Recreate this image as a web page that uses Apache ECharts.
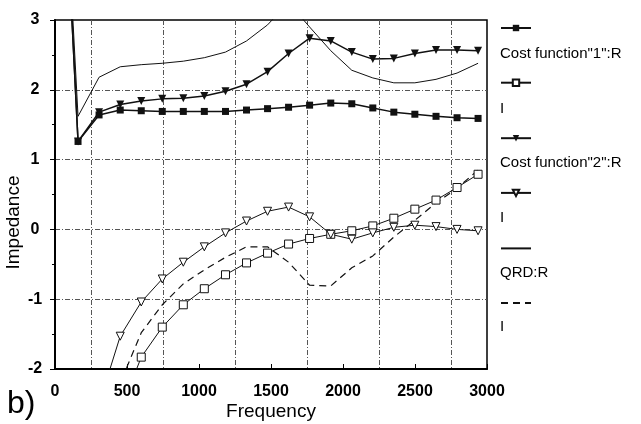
<!DOCTYPE html>
<html>
<head>
<meta charset="utf-8">
<script src="https://cdn.jsdelivr.net/npm/echarts@6/dist/echarts.min.js"></script>
<style>
html,body{margin:0;padding:0;background:#fff;}
#c{width:641px;height:424px;}
</style>
</head>
<body>
<div id="c"></div>
<script>
// Frequencies of the samples (Hz)
const freq = [14, 160, 306, 453, 599, 745, 891, 1037, 1184, 1330, 1476, 1622, 1768, 1915, 2061, 2207, 2353, 2499, 2646, 2792, 2938];
// Cost function "1"
const cost1R = [7.3, 1.26, 1.64, 1.71, 1.70, 1.69, 1.69, 1.69, 1.69, 1.71, 1.73, 1.75, 1.78, 1.81, 1.80, 1.74, 1.68, 1.65, 1.62, 1.60, 1.59];
const cost1I = [null, null, null, -2.6, -1.83, -1.40, -1.08, -0.85, -0.65, -0.48, -0.34, -0.21, -0.13, -0.07, -0.02, 0.05, 0.16, 0.29, 0.42, 0.60, 0.79];
// Cost function "2"
const cost2R = [7.3, 1.26, 1.68, 1.79, 1.84, 1.87, 1.88, 1.91, 1.98, 2.08, 2.26, 2.52, 2.74, 2.70, 2.54, 2.44, 2.45, 2.52, 2.57, 2.57, 2.56];
const cost2I = [null, null, -2.5, -1.53, -1.04, -0.71, -0.47, -0.25, -0.05, 0.12, 0.26, 0.32, 0.18, -0.07, -0.14, -0.05, 0.03, 0.06, 0.04, 0.00, -0.02];
// QRD
const qrdR = [7.3, 1.62, 2.18, 2.33, 2.36, 2.38, 2.41, 2.46, 2.54, 2.70, 2.93, 3.25, 2.90, 2.56, 2.28, 2.17, 2.10, 2.10, 2.15, 2.24, 2.38];
const qrdI = [null, null, -3.3, -2.2, -1.48, -1.08, -0.78, -0.58, -0.40, -0.25, -0.25, -0.47, -0.80, -0.81, -0.55, -0.38, -0.11, 0.13, 0.38, 0.59, 0.85];

const seriesNames = ['Cost function"1":R', 'Cost function"1":I', 'Cost function"2":R', 'Cost function"2":I', 'QRD:R', 'QRD:I'];
const legendLabels = ['Cost function"1":R', 'I', 'Cost function"2":R', 'I', 'QRD:R', 'I'];

const xTicks = {min: 0, max: 3000, interval: 500};
const yTicks = {min: -2, max: 3, interval: 1};

const FONT = '"Liberation Sans", Arial, sans-serif';
const pts = v => freq.map((f, i) => [f, v[i]]);
const labelOf = name => legendLabels[seriesNames.indexOf(name)];

const chart = echarts.init(document.getElementById('c'), null, {renderer: 'canvas'});
const base = {type: 'line', clip: true, connectNulls: false, animation: false};
const iconItems = seriesNames.map((n, i) => i >= 4 ? {name: n, itemStyle: {opacity: 0}} : {name: n});
const option = {
  backgroundColor: '#fff',
  animation: false,
  textStyle: {fontFamily: FONT},
  grid: {left: 55, right: 154, top: 20, bottom: 55, containLabel: false, outerBoundsMode: 'none',
    show: true, borderColor: '#000', borderWidth: 1.5, backgroundColor: 'transparent'},
  xAxis: {
    type: 'value', min: xTicks.min, max: xTicks.max, interval: xTicks.interval,
    name: 'Frequency', nameLocation: 'middle', nameGap: 33, nameMoveOverlap: false,
    nameTextStyle: {fontSize: 19, color: '#000', fontFamily: FONT},
    axisLine: {show: true, onZero: false, lineStyle: {color: '#000', width: 2}},
    axisTick: {show: true, inside: true, length: 5, lineStyle: {color: '#000'}},
    minorTick: {show: false, splitNumber: 2},
    axisLabel: {fontSize: 16, fontWeight: 'bold', color: '#000', margin: 15, fontFamily: FONT, formatter: v => String(v)},
    splitLine: {show: false},
    minorSplitLine: {show: true, lineStyle: {color: '#555', width: 1, type: [5, 2, 1, 2]}}
  },
  yAxis: {
    type: 'value', min: yTicks.min, max: yTicks.max, interval: yTicks.interval,
    name: 'Impedance', nameLocation: 'middle', nameGap: 32, nameRotate: 90, nameMoveOverlap: false,
    nameTextStyle: {fontSize: 19, color: '#000', fontFamily: FONT, padding: [0, 56, 0, 0]},
    axisLine: {show: true, onZero: false, lineStyle: {color: '#000', width: 2}},
    axisTick: {show: true, length: 5, lineStyle: {color: '#000'}},
    minorTick: {show: true, splitNumber: 2, length: 3, lineStyle: {color: '#000'}},
    axisLabel: {fontSize: 16, fontWeight: 'bold', color: '#000', margin: 20, align: 'center', fontFamily: FONT, formatter: v => String(v)},
    splitLine: {show: true, showMinLine: false, showMaxLine: false, lineStyle: {color: '#555', width: 1, type: [5, 2, 1, 2]}}
  },
  legend: [
    {
      orient: 'vertical', left: 500, top: 24, padding: 0, itemWidth: 30, itemHeight: 8, itemGap: 47.3,
      data: iconItems, formatter: () => '', selectedMode: false
    },
    {
      orient: 'vertical', left: 486, top: 44, padding: 0, itemWidth: 0, itemHeight: 20, itemGap: 34.6,
      data: seriesNames, formatter: labelOf, selectedMode: false,
      itemStyle: {opacity: 0}, lineStyle: {opacity: 0},
      textStyle: {fontSize: 15, color: '#000', fontFamily: FONT, lineHeight: 20}
    }
  ],
  graphic: [
    {type: 'text', left: 7, top: 388, style: {text: 'b)', fontSize: 32, fontFamily: FONT, fill: '#000'}}
  ],
  series: [
    Object.assign({}, base, {name: seriesNames[0], data: pts(cost1R), symbol: 'rect', symbolSize: 7,
      lineStyle: {color: '#111', width: 1.5}, itemStyle: {color: '#111'}, z: 5}),
    Object.assign({}, base, {name: seriesNames[1], data: pts(cost1I), symbol: 'rect', symbolSize: 8,
      lineStyle: {color: '#111', width: 1}, itemStyle: {color: '#fff', borderColor: '#111', borderWidth: 1}, z: 4}),
    Object.assign({}, base, {name: seriesNames[2], data: pts(cost2R), symbol: 'triangle', symbolRotate: 180, symbolSize: 8,
      lineStyle: {color: '#111', width: 1.5}, itemStyle: {color: '#111'}, z: 5}),
    Object.assign({}, base, {name: seriesNames[3], data: pts(cost2I), symbol: 'triangle', symbolRotate: 180, symbolSize: 8,
      lineStyle: {color: '#111', width: 1}, itemStyle: {color: '#fff', borderColor: '#111', borderWidth: 1}, z: 4}),
    Object.assign({}, base, {name: seriesNames[4], data: pts(qrdR), symbol: 'none', showSymbol: false,
      lineStyle: {color: '#111', width: 1}, itemStyle: {color: '#111'}, z: 3}),
    Object.assign({}, base, {name: seriesNames[5], data: pts(qrdI), symbol: 'none', showSymbol: false,
      lineStyle: {color: '#111', width: 1.2, type: [7, 5]}, itemStyle: {color: '#111'}, z: 3})
  ]
};
chart.setOption(option);
</script>
</body>
</html>
